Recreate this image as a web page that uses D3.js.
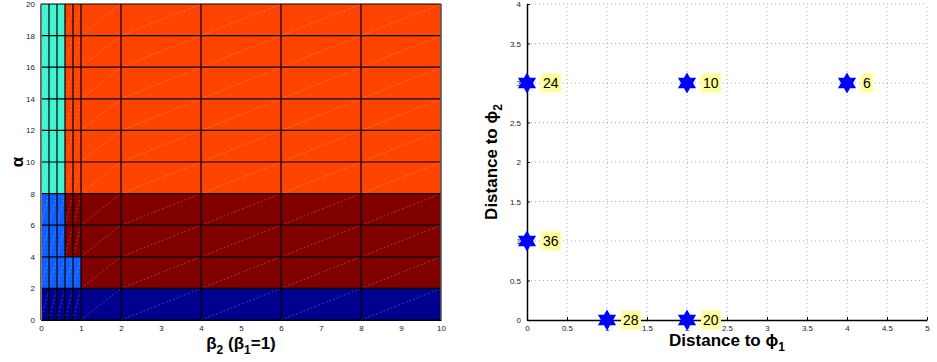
<!DOCTYPE html>
<html>
<head>
<meta charset="utf-8">
<script src="https://cdn.jsdelivr.net/npm/d3@7"></script>
<style>
  body { margin: 0; background: #fff; }
  svg { font-family: "Liberation Sans", Arial, sans-serif; }
  .tick text { font-size: 8px; fill: #222; }
  .axlabel { font-size: 17px; font-weight: bold; fill: #000; }
</style>
</head>
<body>
<svg id="chart" width="937" height="362"></svg>
<script>
// Left panel: region map over (beta2, alpha)
var betaEdges = [0, 0.2, 0.4, 0.6, 0.8, 1, 2, 4, 6, 8, 10];
var alphaEdges = [0, 2, 4, 6, 8, 10, 12, 14, 16, 18, 20];
// one string per alpha row (bottom to top), one letter per beta column
var regionRows = [
    "NNNNNNNNNN",
    "BBBBBDDDDD",
    "BBBDDDDDDD",
    "BBBDDDDDDD",
    "CCCOOOOOOO",
    "CCCOOOOOOO",
    "CCCOOOOOOO",
    "CCCOOOOOOO",
    "CCCOOOOOOO",
    "CCCOOOOOOO"
];
var regionColors = { N: "#00008f", B: "#1060ff", C: "#40f4d2", D: "#800000", O: "#ff4300" };
var betaTicks = [0, 1, 2, 3, 4, 5, 6, 7, 8, 9, 10];
var alphaTicks = [0, 2, 4, 6, 8, 10, 12, 14, 16, 18, 20];

// Right panel: points in distance space
var distPhi1 = [0, 2, 4, 0, 1, 2];
var distPhi2 = [3, 3, 3, 1, 0, 0];
var pointLabels = ["24", "10", "6", "36", "28", "20"];
var distTicksX = [0, 0.5, 1, 1.5, 2, 2.5, 3, 3.5, 4, 4.5, 5];
var distTicksY = [0, 0.5, 1, 1.5, 2, 2.5, 3, 3.5, 4];

var svg = d3.select("#chart");
var fmt = d3.format("~g");

// ---------- left panel ----------
var xL = d3.scaleLinear().domain([0, 10]).range([41, 441]);
var yL = d3.scaleLinear().domain([0, 20]).range([320, 4]);

var cells = [];
regionRows.forEach(function (row, i) {
    row.split("").forEach(function (c, j) {
        cells.push({ x0: betaEdges[j], x1: betaEdges[j + 1], y0: alphaEdges[i], y1: alphaEdges[i + 1], c: c });
    });
});

var gL = svg.append("g");

gL.selectAll("rect.cell")
    .data(cells)
    .enter()
    .append("rect")
    .attr("class", "cell")
    .attr("x", function (d) { return xL(d.x0); })
    .attr("y", function (d) { return yL(d.y1); })
    .attr("width", function (d) { return xL(d.x1) - xL(d.x0); })
    .attr("height", function (d) { return yL(d.y0) - yL(d.y1); })
    .style("fill", function (d) { return regionColors[d.c]; });

// faint facet diagonals
gL.selectAll("line.diag")
    .data(cells)
    .enter()
    .append("line")
    .attr("x1", function (d) { return xL(d.x0); })
    .attr("y1", function (d) { return yL(d.y0); })
    .attr("x2", function (d) { return xL(d.x1); })
    .attr("y2", function (d) { return yL(d.y1); })
    .style("stroke", "#fff")
    .style("stroke-opacity", 0.3)
    .style("stroke-width", 0.8)
    .style("stroke-dasharray", "2,2");

// cell edges
gL.selectAll("line.vedge")
    .data(betaEdges)
    .enter()
    .append("line")
    .attr("x1", function (d) { return xL(d); })
    .attr("x2", function (d) { return xL(d); })
    .attr("y1", yL(0))
    .attr("y2", yL(20))
    .style("stroke", "#000")
    .style("stroke-width", 1.2);

gL.selectAll("line.hedge")
    .data(alphaEdges)
    .enter()
    .append("line")
    .attr("x1", xL(0))
    .attr("x2", xL(10))
    .attr("y1", function (d) { return yL(d); })
    .attr("y2", function (d) { return yL(d); })
    .style("stroke", "#000")
    .style("stroke-width", 1.2);

// axes
var axL = gL.append("g")
    .attr("transform", "translate(" + xL(0) + ",0)")
    .call(d3.axisLeft(yL).tickValues(alphaTicks).tickFormat(fmt).tickSize(0).tickPadding(6));
var axB = gL.append("g")
    .attr("transform", "translate(0," + yL(0) + ")")
    .call(d3.axisBottom(xL).tickValues(betaTicks).tickFormat(fmt).tickSize(0).tickPadding(5));
axL.select(".domain").style("stroke", "#777");
axB.select(".domain").style("stroke", "#000");
gL.append("line")
    .attr("x1", xL(10)).attr("x2", xL(10))
    .attr("y1", yL(0)).attr("y2", yL(20))
    .style("stroke", "#888");

gL.append("text")
    .attr("class", "axlabel")
    .attr("transform", "translate(23," + yL(10) + ") rotate(-90)")
    .attr("text-anchor", "middle")
    .text("α");

var xlab = gL.append("text")
    .attr("class", "axlabel")
    .attr("x", xL(5))
    .attr("y", 349)
    .attr("text-anchor", "middle");
xlab.append("tspan").text("β");
xlab.append("tspan").attr("dy", 5).style("font-size", "12px").text("2");
xlab.append("tspan").attr("dy", -5).text(" (β");
xlab.append("tspan").attr("dy", 5).style("font-size", "12px").text("1");
xlab.append("tspan").attr("dy", -5).text("=1)");

// ---------- right panel ----------
var xR = d3.scaleLinear().domain([0, 5]).range([527, 927]);
var yR = d3.scaleLinear().domain([0, 4]).range([320, 4]);
var gR = svg.append("g");

// dotted grid
gR.selectAll("line.gx")
    .data(distTicksX.slice(1))
    .enter()
    .append("line")
    .attr("x1", function (d) { return xR(d); })
    .attr("x2", function (d) { return xR(d); })
    .attr("y1", yR(0))
    .attr("y2", yR(4))
    .style("stroke", "#aaa")
    .style("stroke-dasharray", "1,3");
gR.selectAll("line.gy")
    .data(distTicksY.slice(1))
    .enter()
    .append("line")
    .attr("x1", xR(0))
    .attr("x2", xR(5))
    .attr("y1", function (d) { return yR(d); })
    .attr("y2", function (d) { return yR(d); })
    .style("stroke", "#aaa")
    .style("stroke-dasharray", "1,3");

gR.append("g")
    .attr("transform", "translate(" + xR(0) + ",0)")
    .call(d3.axisLeft(yR).tickValues(distTicksY).tickFormat(fmt).tickSizeInner(-3).tickSizeOuter(0).tickPadding(6))
    .select(".domain").style("stroke-width", 1.5);
gR.append("g")
    .attr("transform", "translate(0," + yR(0) + ")")
    .call(d3.axisBottom(xR).tickValues(distTicksX).tickFormat(fmt).tickSizeInner(-3).tickSizeOuter(0).tickPadding(5))
    .select(".domain").style("stroke-width", 1.5);

// hexagram marker
function hexagram(r) {
    var pts = [];
    for (var k = 0; k < 12; k++) {
        var a = -Math.PI / 2 + k * Math.PI / 6;
        var rr = (k % 2 === 0) ? r : r * 0.577;
        pts.push([rr * Math.cos(a), rr * Math.sin(a)]);
    }
    return "M" + pts.map(function (p) { return p.join(","); }).join("L") + "Z";
}

var pts = distPhi1.map(function (d, i) {
    return { x: d, y: distPhi2[i], label: pointLabels[i] };
});

var node = gR.selectAll("g.pt")
    .data(pts)
    .enter()
    .append("g")
    .attr("transform", function (d) { return "translate(" + xR(d.x) + "," + yR(d.y) + ")"; });

node.append("rect")
    .attr("x", 14)
    .attr("y", -9.5)
    .attr("width", function (d) { return d.label.length * 8 + 4; })
    .attr("height", 19)
    .style("fill", "#ffff99");

node.append("text")
    .attr("x", 16)
    .attr("y", 5)
    .style("font-size", "14px")
    .text(function (d) { return d.label; });

node.append("path")
    .attr("d", hexagram(10.5))
    .style("fill", "#0000ff");

var rxlab = gR.append("text")
    .attr("class", "axlabel")
    .attr("x", xR(2.5))
    .attr("y", 346)
    .attr("text-anchor", "middle");
rxlab.append("tspan").text("Distance to ϕ");
rxlab.append("tspan").attr("dy", 5).style("font-size", "12px").text("1");

var rylab = gR.append("text")
    .attr("class", "axlabel")
    .attr("transform", "translate(497," + yR(2) + ") rotate(-90)")
    .attr("text-anchor", "middle");
rylab.append("tspan").text("Distance to ϕ");
rylab.append("tspan").attr("dy", 5).style("font-size", "12px").text("2");
</script>
</body>
</html>
